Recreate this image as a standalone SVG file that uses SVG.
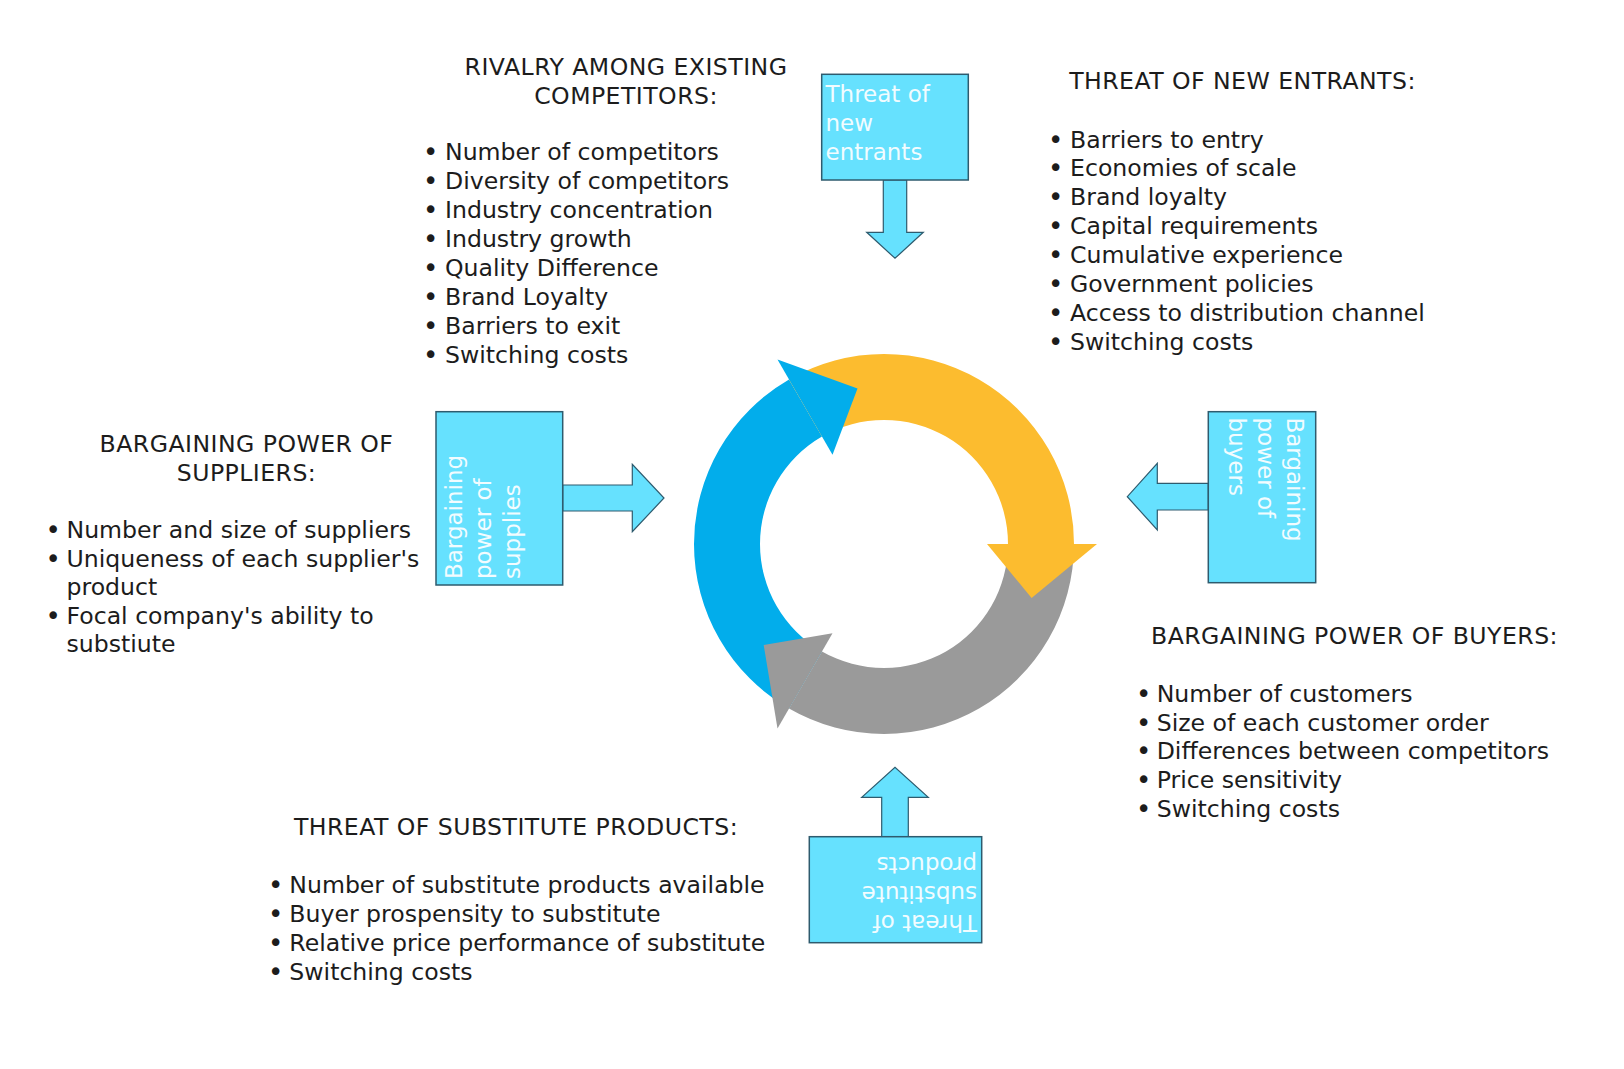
<svg xmlns="http://www.w3.org/2000/svg" width="1624" height="1069" viewBox="0 0 1624 1069">
<style>
  .t { font-family: "DejaVu Sans", Verdana, sans-serif; font-size: 23.6px; fill: #1c1c1c; }
  .h { text-anchor: middle; letter-spacing: 0.45px; }
  .b { font-size: 26px; }
  .bx { fill: #66E1FE; stroke: #2E5B6E; stroke-width: 1.5; }
  .ar { fill: #66E1FE; stroke: #2E5B6E; stroke-width: 1.2; stroke-linejoin: miter; }
  .bt { font-family: "DejaVu Sans", Verdana, sans-serif; font-size: 23px; fill: #F2FCFF; }
  .blue { fill: #02ADEB; }
  .yel { fill: #FCBC2F; }
  .gry { fill: #9A9A9A; }
</style>
<rect width="1624" height="1069" fill="#ffffff"/>

<g id="cycle">
  <path class="blue" d="M789,708.545 A190,190 0 0 1 789,379.455 L822,436.613 A124,124 0 0 0 822,651.387 Z"/>
  <path class="yel" d="M789,379.455 A190,190 0 0 1 1074,544 L1008,544 A124,124 0 0 0 822,436.613 Z"/>
  <path class="gry" d="M1074,544 A190,190 0 0 1 789,708.545 L822,651.387 A124,124 0 0 0 1008,544 Z"/>
  <polygon class="blue" points="777.5,359.5 832.5,454.8 857.5,388.5"/>
  <polygon class="yel" points="1097,544 987,544 1031.6,597.9"/>
  <polygon class="gry" points="777.5,728.5 832.5,633.2 763.7,644.9"/>
</g>

<g id="connectors">
  <polygon class="ar" points="883.3,180 883.3,232.3 866.7,232.3 895,258.3 923.3,232.3 906.7,232.3 906.7,180"/>
  <polygon class="ar" points="562.7,485 632.3,485 632.3,464.3 664,498 632.3,531.7 632.3,511 562.7,511"/>
  <polygon class="ar" points="1208.3,483.3 1157.3,483.3 1157.3,463.3 1127.3,496.7 1157.3,530 1157.3,510 1208.3,510"/>
  <polygon class="ar" points="881.7,836.7 881.7,797.3 861.7,797.3 895,767.3 928.3,797.3 908.3,797.3 908.3,836.7"/>
</g>

<g id="box-new-entrants">
  <rect class="bx" x="821.7" y="74.3" width="146.6" height="105.7"/>
  <text class="bt"><tspan x="825.5" y="102">Threat of</tspan><tspan x="825.5" y="131">new</tspan><tspan x="825.5" y="160">entrants</tspan></text>
</g>

<g id="box-suppliers">
  <rect class="bx" x="436" y="411.7" width="126.7" height="173.3"/>
  <text class="bt" transform="translate(462,579) rotate(-90)"><tspan x="0" y="0">Bargaining</tspan><tspan x="0" y="29">power of</tspan><tspan x="0" y="58">supplies</tspan></text>
</g>

<g id="box-buyers">
  <rect class="bx" x="1208.3" y="411.7" width="107.4" height="171"/>
  <text class="bt" transform="translate(1287,417.5) rotate(90)"><tspan x="0" y="0">Bargaining</tspan><tspan x="0" y="29">power of</tspan><tspan x="0" y="58">buyers</tspan></text>
</g>

<g id="box-substitutes">
  <rect class="bx" x="809.3" y="836.7" width="172.4" height="106"/>
  <text class="bt" transform="translate(977,914.5) rotate(180)"><tspan x="0" y="0">Threat of</tspan><tspan x="0" y="29">substitute</tspan><tspan x="0" y="58">products</tspan></text>
</g>

<g id="rivalry">
  <text class="t h" x="626" y="74.5">RIVALRY AMONG EXISTING</text>
  <text class="t h" x="626" y="103.5">COMPETITORS:</text>
  <text class="t"><tspan class="b" x="423" y="161">•</tspan><tspan x="445" y="160">Number of competitors</tspan></text>
  <text class="t"><tspan class="b" x="423" y="190">•</tspan><tspan x="445" y="189">Diversity of competitors</tspan></text>
  <text class="t"><tspan class="b" x="423" y="219">•</tspan><tspan x="445" y="218">Industry concentration</tspan></text>
  <text class="t"><tspan class="b" x="423" y="248">•</tspan><tspan x="445" y="247">Industry growth</tspan></text>
  <text class="t"><tspan class="b" x="423" y="277">•</tspan><tspan x="445" y="276">Quality Difference</tspan></text>
  <text class="t"><tspan class="b" x="423" y="306">•</tspan><tspan x="445" y="305">Brand Loyalty</tspan></text>
  <text class="t"><tspan class="b" x="423" y="335">•</tspan><tspan x="445" y="334">Barriers to exit</tspan></text>
  <text class="t"><tspan class="b" x="423" y="364">•</tspan><tspan x="445" y="363">Switching costs</tspan></text>
</g>

<g id="new-entrants">
  <text class="t h" x="1242.5" y="89.3">THREAT OF NEW ENTRANTS:</text>
  <text class="t"><tspan class="b" x="1048" y="148.5">•</tspan><tspan x="1070" y="147.5">Barriers to entry</tspan></text>
  <text class="t"><tspan class="b" x="1048" y="177.4">•</tspan><tspan x="1070" y="176.4">Economies of scale</tspan></text>
  <text class="t"><tspan class="b" x="1048" y="206.3">•</tspan><tspan x="1070" y="205.3">Brand loyalty</tspan></text>
  <text class="t"><tspan class="b" x="1048" y="235.2">•</tspan><tspan x="1070" y="234.2">Capital requirements</tspan></text>
  <text class="t"><tspan class="b" x="1048" y="264.1">•</tspan><tspan x="1070" y="263.1">Cumulative experience</tspan></text>
  <text class="t"><tspan class="b" x="1048" y="293">•</tspan><tspan x="1070" y="292">Government policies</tspan></text>
  <text class="t"><tspan class="b" x="1048" y="321.9">•</tspan><tspan x="1070" y="320.9">Access to distribution channel</tspan></text>
  <text class="t"><tspan class="b" x="1048" y="350.8">•</tspan><tspan x="1070" y="349.8">Switching costs</tspan></text>
</g>

<g id="suppliers">
  <text class="t h" x="246.5" y="451.5">BARGAINING POWER OF</text>
  <text class="t h" x="246.5" y="480.5">SUPPLIERS:</text>
  <text class="t"><tspan class="b" x="45.5" y="539">•</tspan><tspan x="66.5" y="538">Number and size of suppliers</tspan></text>
  <text class="t"><tspan class="b" x="45.5" y="567.6">•</tspan><tspan x="66.5" y="566.6">Uniqueness of each supplier's</tspan></text>
  <text class="t" x="66.5" y="595.2">product</text>
  <text class="t"><tspan class="b" x="45.5" y="624.8">•</tspan><tspan x="66.5" y="623.8">Focal company's ability to</tspan></text>
  <text class="t" x="66.5" y="652.4">substiute</text>
</g>

<g id="substitutes">
  <text class="t h" x="516" y="835">THREAT OF SUBSTITUTE PRODUCTS:</text>
  <text class="t"><tspan class="b" x="268" y="893.7">•</tspan><tspan x="289.3" y="892.7">Number of substitute products available</tspan></text>
  <text class="t"><tspan class="b" x="268" y="922.7">•</tspan><tspan x="289.3" y="921.7">Buyer prospensity to substitute</tspan></text>
  <text class="t"><tspan class="b" x="268" y="951.7">•</tspan><tspan x="289.3" y="950.7">Relative price performance of substitute</tspan></text>
  <text class="t"><tspan class="b" x="268" y="980.7">•</tspan><tspan x="289.3" y="979.7">Switching costs</tspan></text>
</g>

<g id="buyers">
  <text class="t h" x="1354.5" y="644.3">BARGAINING POWER OF BUYERS:</text>
  <text class="t"><tspan class="b" x="1136" y="702.7">•</tspan><tspan x="1156.7" y="701.7">Number of customers</tspan></text>
  <text class="t"><tspan class="b" x="1136" y="731.5">•</tspan><tspan x="1156.7" y="730.5">Size of each customer order</tspan></text>
  <text class="t"><tspan class="b" x="1136" y="760.3">•</tspan><tspan x="1156.7" y="759.3">Differences between competitors</tspan></text>
  <text class="t"><tspan class="b" x="1136" y="789.1">•</tspan><tspan x="1156.7" y="788.1">Price sensitivity</tspan></text>
  <text class="t"><tspan class="b" x="1136" y="817.9">•</tspan><tspan x="1156.7" y="816.9">Switching costs</tspan></text>
</g>
</svg>
